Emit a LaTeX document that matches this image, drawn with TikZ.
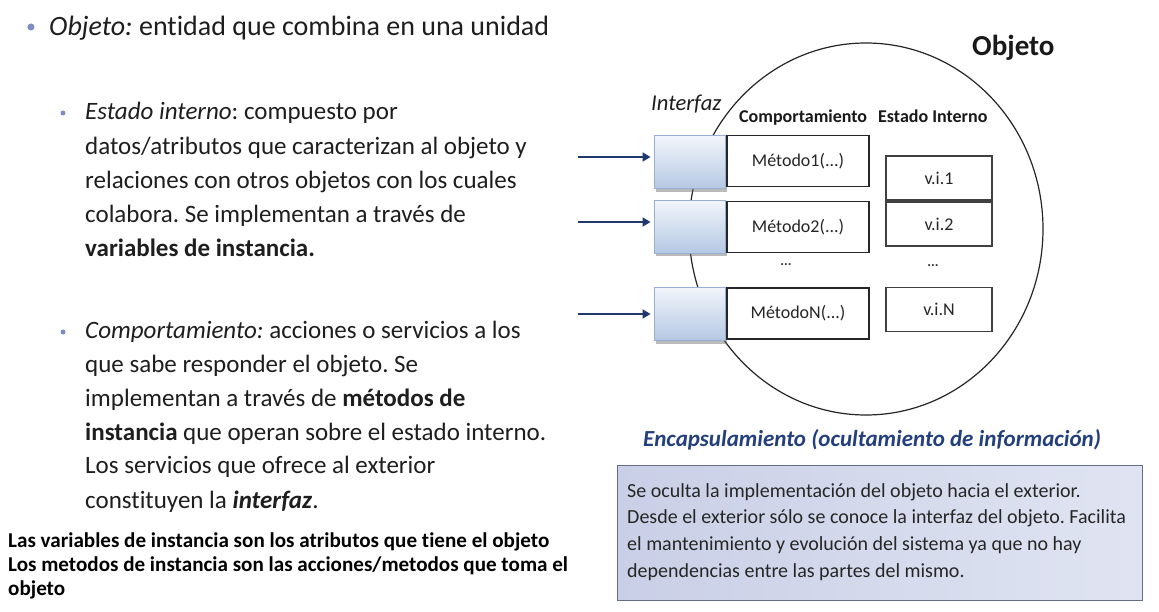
\documentclass[tikz,border=0pt]{standalone}
\usepackage{fontspec}
\setmainfont{Carlito}[Ligatures=NoCommon]
\frenchspacing
\usetikzlibrary{arrows.meta,shapes.geometric,shadows}
\definecolor{arrowblue}{RGB}{31,56,110}
\definecolor{bulletblue}{RGB}{125,140,195}
\definecolor{textgray}{RGB}{30,30,30}
\definecolor{iftop}{RGB}{242,245,251}
\definecolor{ifbot}{RGB}{180,200,226}
\definecolor{ifedge}{RGB}{150,175,210}
\definecolor{titleblue}{RGB}{36,64,124}
\definecolor{encleft}{RGB}{201,207,230}
\definecolor{encright}{RGB}{224,228,242}
\definecolor{encedge}{RGB}{100,110,140}
\tikzset{
  txt/.style={inner sep=0pt, anchor=base west, text=textgray},
  big/.style={txt, font=\fontsize{28}{34}\selectfont},
  mid/.style={txt, font=\fontsize{25}{34}\selectfont},
  note/.style={txt, font=\fontsize{21.1}{24}\selectfont\bfseries, text=black},
  enctxt/.style={txt, font=\fontsize{20}{26}\selectfont, text=black!85},
  head/.style={txt, font=\fontsize{18}{22}\selectfont\bfseries, text=black!90},
  bul/.style={circle, fill=bulletblue, inner sep=0pt, minimum size=7pt},
  sbul/.style={circle, fill=bulletblue, inner sep=0pt, minimum size=5pt},
  ifbox/.style={rectangle, draw=ifedge, line width=1pt, top color=iftop, bottom color=ifbot,
    minimum width=71pt, minimum height=53pt, inner sep=0pt,
    drop shadow={shadow xshift=1.5pt, shadow yshift=-3pt, opacity=0.45, fill=black!60}},
  mbox/.style={rectangle, draw=black!85, fill=white, line width=1.2pt, inner sep=0pt,
    minimum width=142pt, minimum height=51pt, font=\fontsize{18}{20}\selectfont, text=black!85},
  vbox/.style={rectangle, draw=black!75, fill=white, line width=1.4pt, inner sep=0pt,
    minimum width=106pt, minimum height=44pt, font=\fontsize{18}{20}\selectfont, text=black!85},
  arr/.style={draw=arrowblue, line width=1.8pt, -{Triangle[length=8pt,width=9pt]}},
  dots/.style={inner sep=0pt, anchor=base, font=\fontsize{14}{16}\selectfont\bfseries, text=black!80},
  encbox/.style={rectangle, draw=encedge, line width=1pt, left color=encleft, right color=encright,
    minimum width=525pt, minimum height=135pt, inner sep=0pt}
}
\begin{document}
\begin{tikzpicture}[x=1pt,y=-1pt]
\useasboundingbox (0,0) rectangle (1159,612);
\fill[white] (0,0) rectangle (1159,612);

% ---------- left text ----------
\node[bul] (b1) at (31,27) {};
\node[big] (t1) at (49,36) {\textit{Objeto:} entidad que combina en una unidad};

\node[sbul] (b2) at (63,113) {};
\node[mid] (e1) at (85,120) {\textit{Estado interno}: compuesto por};
\node[mid] (e2) at (85,155) {datos/atributos que caracterizan al objeto y};
\node[mid] (e3) at (85,188.5) {relaciones con otros objetos con los cuales};
\node[mid] (e4) at (85,223) {colabora. Se implementan a través de};
\node[mid] (e5) at (85,257) {\textbf{variables de instancia.}};

\node[sbul] (b3) at (63,332) {};
\node[mid] (c1) at (85,338) {\textit{Comportamiento:} acciones o servicios a los};
\node[mid] (c2) at (85,372.5) {que sabe responder el objeto. Se};
\node[mid] (c3) at (85,406) {implementan a través de \textbf{métodos de}};
\node[mid] (c4) at (85,440) {\textbf{instancia} que operan sobre el estado interno.};
\node[mid] (c5) at (85,473.5) {Los servicios que ofrece al exterior};
\node[mid] (c6) at (85,508) {constituyen la \textbf{\textit{interfaz}}.};

\node[note] (n1) at (8,547) {Las variables de instancia son los atributos que tiene el objeto};
\node[note] (n2) at (8,571.5) {Los metodos de instancia son las acciones/metodos que toma el};
\node[note] (n3) at (8,595) {objeto};

% ---------- object diagram ----------
\node[ellipse, draw=black!85, line width=1.2pt, minimum width=354pt, minimum height=372pt, inner sep=0pt] (obj) at (866,229) {};

\node[txt, font=\fontsize{29}{32}\selectfont\bfseries, text=black!90] (hobj) at (972,56) {Objeto};
\node[txt, font=\fontsize{22.6}{26}\selectfont\itshape] (hif) at (651,111) {Interfaz};
\node[head] (hc) at (739,123) {Comportamiento};
\node[head] (he) at (878,123) {Estado Interno};

\node[ifbox] (i1) at (689.5,162.5) {};
\node[ifbox] (i2) at (689.5,227) {};
\node[ifbox] (i3) at (689.5,314) {};

\node[mbox] (m1) at (798,161) {Método1(...)};
\node[mbox] (m2) at (798,227) {Método2(...)};
\node[mbox] (m3) at (798,313.5) {MétodoN(...)};

\node[vbox] (v1) at (939,178) {v.i.1};
\node[vbox] (v2) at (939,224) {v.i.2};
\node[vbox] (v3) at (939,309.5) {v.i.N};

\node[dots] (d1) at (786,266) {...};
\node[dots] (d2) at (933,267) {...};

\coordinate (a1) at (578,157);
\coordinate (a2) at (578,222);
\coordinate (a3) at (578,314);
\draw[arr, shorten >=3pt] (a1) -- (a1 -| i1.west);
\draw[arr, shorten >=3pt] (a2) -- (a2 -| i2.west);
\draw[arr, shorten >=3pt] (a3) -- (a3 -| i3.west);

% ---------- encapsulation ----------
\node[txt, font=\fontsize{23}{26}\selectfont\bfseries\itshape, text=titleblue] (etitle) at (643,446.5) {Encapsulamiento (ocultamiento de información)};
\node[encbox] (enc) at (879.5,532.5) {};
\node[enctxt] (p1) at (627,497) {Se oculta la implementación del objeto hacia el exterior.};
\node[enctxt] (p2) at (627,523.5) {Desde el exterior sólo se conoce la interfaz del objeto. Facilita};
\node[enctxt] (p3) at (627,550) {el mantenimiento y evolución del sistema ya que no hay};
\node[enctxt] (p4) at (627,577) {dependencias entre las partes del mismo.};
\end{tikzpicture}
\end{document}
